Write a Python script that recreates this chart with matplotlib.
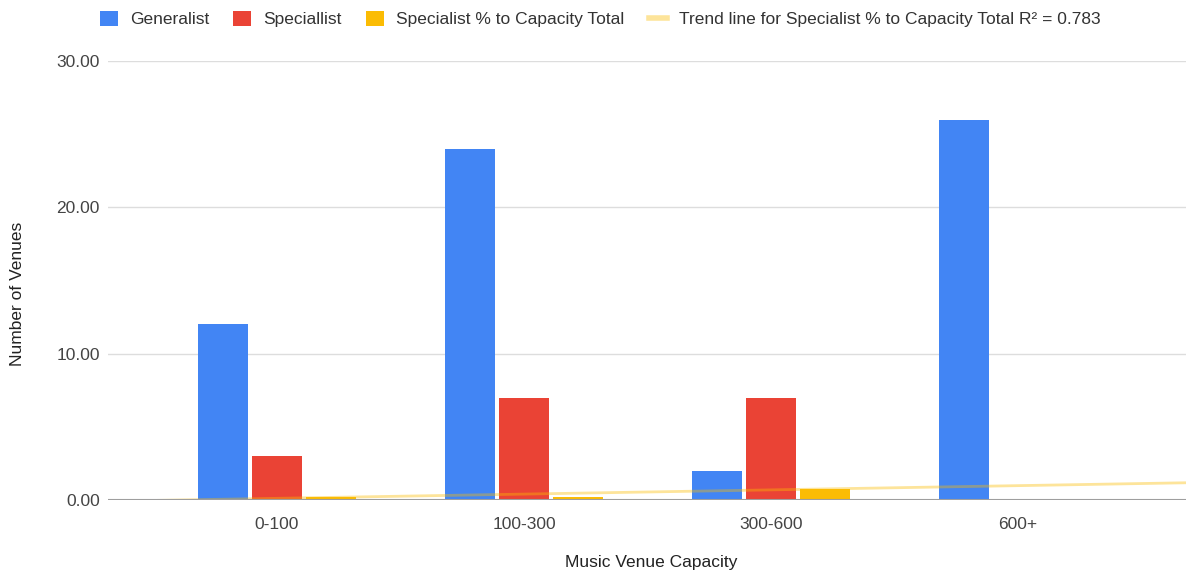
import numpy as np
import matplotlib
matplotlib.use("Agg")
import matplotlib.pyplot as plt
from matplotlib.patches import Patch
from matplotlib.lines import Line2D

plt.rcParams['font.family'] = ['Liberation Sans', 'DejaVu Sans']

categories = ["0-100", "100-300", "300-600", "600+"]
generalist = [12, 24, 2, 26]
specialist = [3, 7, 7, 0]
specialist_pct = [3 / 15, 7 / 31, 7 / 9, 0]
# sheets fitted the trend on the first three groups only (600+ blank)
trend_n = 3

BLUE = "#4285f4"
RED = "#ea4335"
YELLOW = "#fbbc04"
FS = 12.5

fig = plt.figure(figsize=(11.86, 5.76), dpi=100)
ax = fig.add_axes([0.0911, 0.132, 0.9089, 0.762])

x = np.arange(len(categories))
w = 0.202
step = 0.219
ax.bar(x - step, generalist, w, color=BLUE, zorder=2)
ax.bar(x, specialist, w, color=RED, zorder=2)
ax.bar(x + step, specialist_pct, w, color=YELLOW, zorder=2)

xlim = (-0.684, 3.68)
slope, icpt = np.polyfit(np.arange(1, trend_n + 1), specialist_pct[:trend_n], 1)
tx = np.array(xlim)
ax.plot(tx, icpt + slope * (tx + 1), color=YELLOW, alpha=0.4, lw=2, zorder=3,
        solid_capstyle="butt")

ax.set_xlim(*xlim)
ax.set_ylim(0, 30)
ax.set_yticks([0, 10, 20, 30])
ax.set_yticklabels(["0.00", "10.00", "20.00", "30.00"])
ax.set_xticks(x)
ax.set_xticklabels(categories)
ax.grid(axis="y", color="#dddddd", lw=1, zorder=0)
ax.axhline(0, color="#9e9e9e", lw=1.5, zorder=4)
for s in ax.spines.values():
    s.set_visible(False)
ax.tick_params(axis="both", length=0, labelsize=FS, colors="#444444")
ax.tick_params(axis="y", pad=6)
ax.tick_params(axis="x", pad=12)

fig.text(18 / 1186, 1 - 294 / 576, "Number of Venues", rotation=90,
         ha="center", va="center", fontsize=FS, color="#222222")
fig.text(651 / 1186, 1 - 563 / 576, "Music Venue Capacity",
         ha="center", va="center", fontsize=FS, color="#222222")

handles = [
    Patch(facecolor=BLUE, edgecolor="none"),
    Patch(facecolor=RED, edgecolor="none"),
    Patch(facecolor=YELLOW, edgecolor="none"),
    Line2D([], [], color=YELLOW, alpha=0.4, lw=4),
]
labels = ["Generalist", "Speciallist", "Specialist % to Capacity Total",
          "Trend line for Specialist % to Capacity Total R\u00b2 = 0.783"]
fig.legend(handles, labels, loc="center", bbox_to_anchor=(0.506, 1 - 19 / 576),
           ncol=4, frameon=False, fontsize=FS, handlelength=1.03,
           handleheight=1.0, handletextpad=0.7, columnspacing=1.4,
           labelcolor="#333333", borderpad=0)

fig.savefig("out.png", dpi=100)
